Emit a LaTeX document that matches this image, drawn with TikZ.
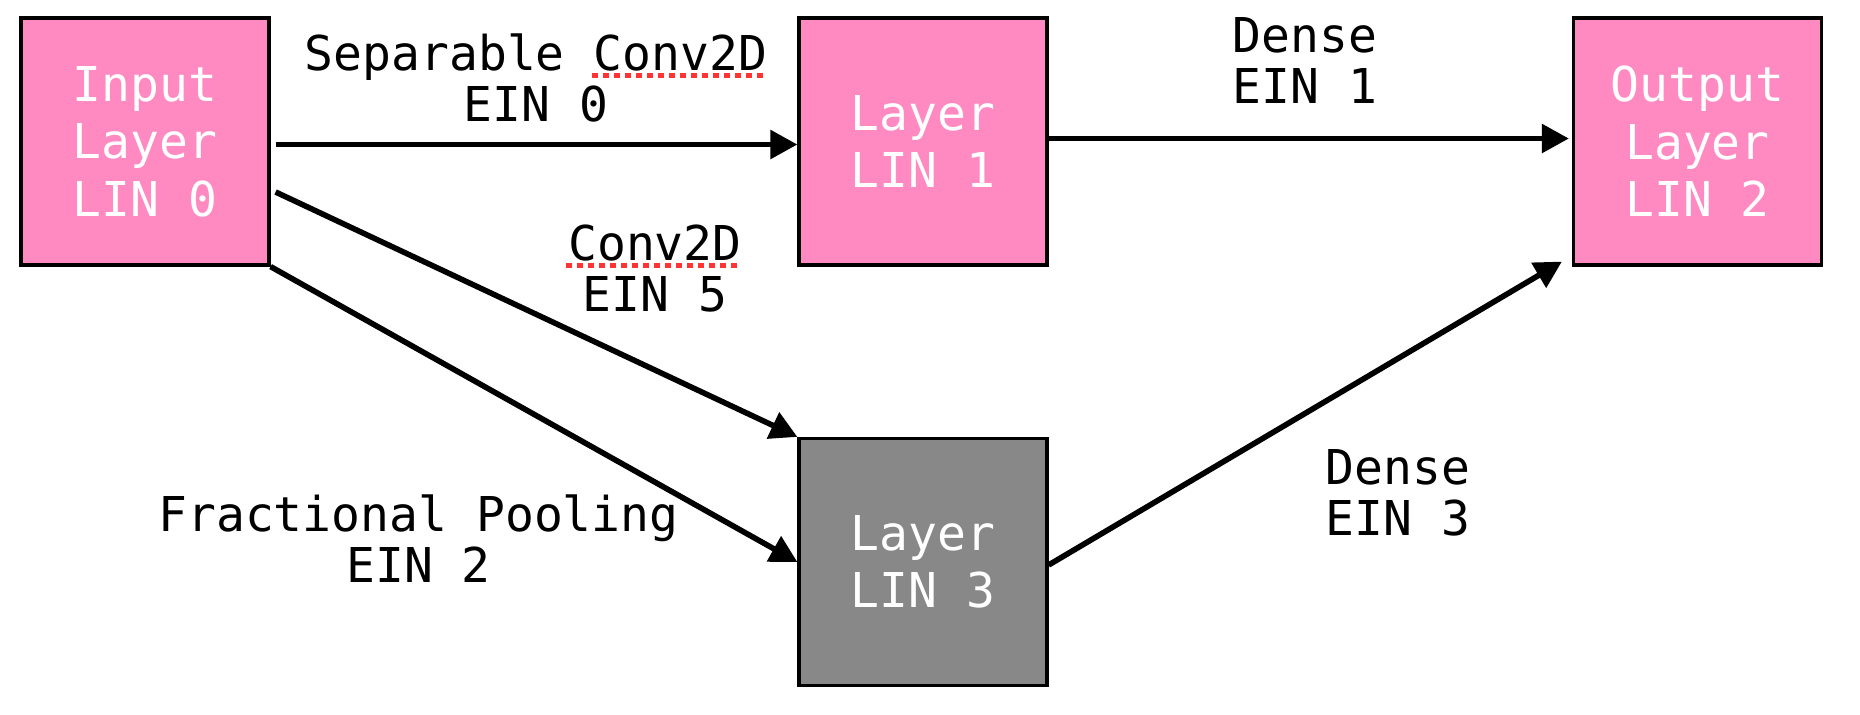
\documentclass[tikz,border=0pt]{standalone}
\usepackage{fontspec}
\usepackage{xcolor}
\usepackage{tikz}
\usetikzlibrary{arrows.meta}
\newfontfamily\dejavumono{DejaVu Sans Mono}
\definecolor{layerpink}{RGB}{255,138,193}
\definecolor{layergray}{RGB}{136,136,136}
\definecolor{dotred}{RGB}{255,51,51}
\newcommand{\boxfont}{\dejavumono\fontsize{24pt}{28.75pt}\selectfont}
\newcommand{\labelfont}{\dejavumono\fontsize{24pt}{25.5pt}\selectfont}
% red dotted mark under a word
\newcommand{\typo}[1]{%
  \setbox0\hbox{#1}%
  \rlap{\hskip-1pt\color{dotred}\raisebox{-3.6pt}{\hbox to \dimexpr\wd0+2pt\relax{\leaders\hbox to 5.5pt{\vrule width 2.9pt height 2.6pt\hss}\hfill}}}%
  \box0}

\begin{document}
\begin{tikzpicture}[x=0.5pt, y=-0.5pt, line width=2.8pt,
    layer/.style={draw, line width=1.6pt, fill=layerpink, text=white, minimum width=124pt, minimum height=123.5pt, align=center, inner sep=0pt, font=\boxfont},
    hidden/.style={layer, fill=layergray},
    edgelabel/.style={align=center, inner sep=0pt, font=\labelfont},
    link/.style={-{Triangle[length=13.5pt, width=14pt]}}]
    \useasboundingbox (0,0) rectangle (1860,714);

    \node [layer] (inlayer) at (145,141.5) {Input\\Layer\\LIN 0};
    \node [layer] (layerone) at (923,141.5) {Layer\\LIN 1};
    \node [layer] (outlayer) at (1697.5,141.5) {Output\\Layer\\LIN 2};
    \node [hidden] (layerthree) at (923,562) {Layer\\LIN 3};

    \draw [link] ([shift={(2.5pt,-1.5pt)}]inlayer.east) -- ([yshift=-1.5pt]layerone.west);
    \draw [link] ([yshift=1.5pt]layerone.east) -- ([shift={(-1.5pt,1.5pt)}]outlayer.west);
    \draw [link] ([shift={(2.5pt,-25.25pt)}]inlayer.east) -- (layerthree.north west);
    \draw [link] (inlayer.south east) -- (layerthree.west);
    \draw [link] ([yshift=-1.5pt]layerthree.east) -- ([shift={(-5pt,2.5pt)}]outlayer.south west);

    \node [edgelabel] (sepconv) at (536,78) {Separable \typo{Conv2D}\\EIN 0};
    \node [edgelabel] (denseone) at (1305,60.5) {Dense\\EIN 1};
    \node [edgelabel] (convfive) at (655,269) {\typo{Conv2D}\\EIN 5};
    \node [edgelabel] (pooltwo) at (418.5,539) {Fractional Pooling\\EIN 2};
    \node [edgelabel] (densethree) at (1398,492.5) {Dense\\EIN 3};

\end{tikzpicture}
\end{document}
